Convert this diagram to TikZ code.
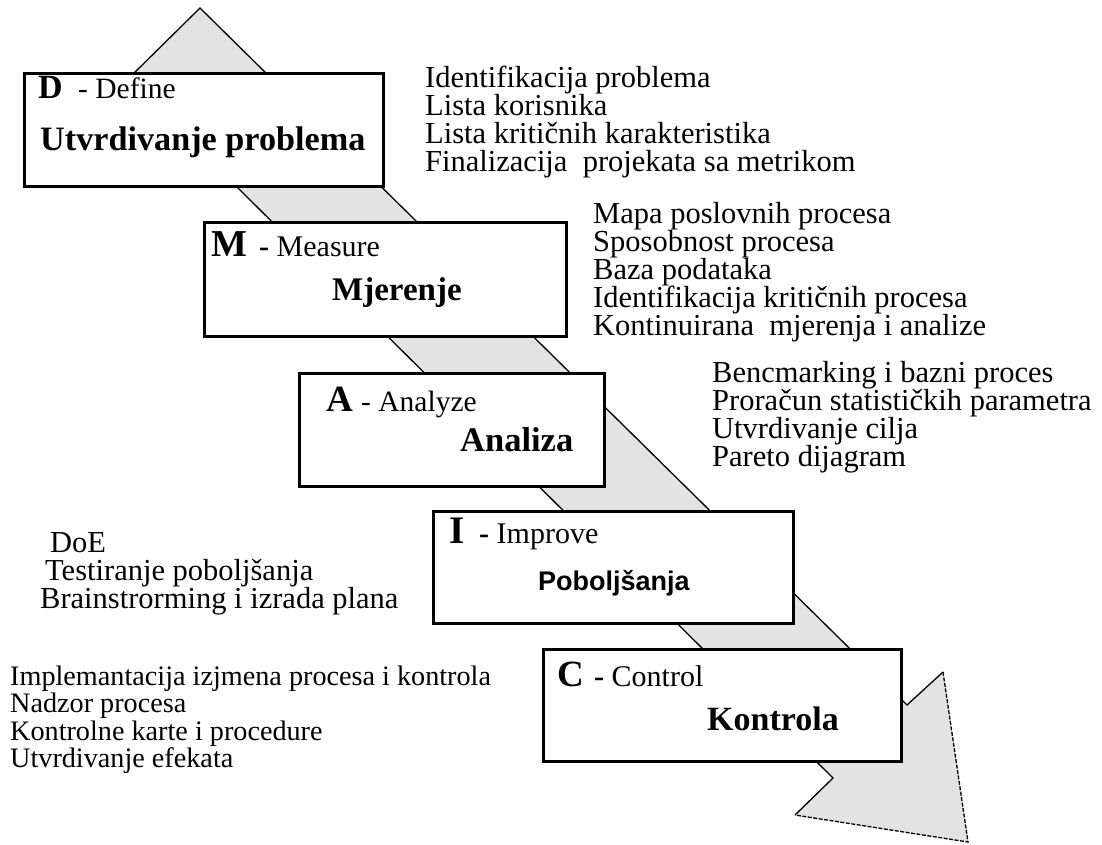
\documentclass[tikz,border=0pt]{standalone}
\usepackage{fontspec}
\setmainfont{Liberation Serif}
\newfontfamily\arialfont{Liberation Sans}
\definecolor{bandgray}{gray}{0.89}
\begin{document}
\begin{tikzpicture}[x=1pt,y=-1pt,
  bandline/.style={draw=black, line width=1.3pt, line join=miter},
  banddash/.style={draw=black, line width=1.3pt, dash pattern=on 4pt off 1.5pt},
  stagebox/.style={draw=black, line width=2.8pt, fill=white, anchor=north west, inner sep=0pt},
  txt/.style={anchor=base west, inner sep=0pt},
  lst/.style={txt, font=\fontsize{30.5}{30}\selectfont},
  lsts/.style={txt, font=\fontsize{28.2}{28}\selectfont},
  letter/.style={txt, font=\bfseries\fontsize{#1}{#1}\selectfont},
  sub/.style={txt, font=\fontsize{#1}{#1}\selectfont},
  title/.style={txt, font=\bfseries\fontsize{#1}{#1}\selectfont}]
\useasboundingbox (0,0) rectangle (1102,844);
% band arrow
\coordinate (apex) at (200,8);
\coordinate (r1) at (907,705);
\coordinate (bR) at (943,672);
\coordinate (tip) at (968,842);
\coordinate (bL) at (795,815);
\coordinate (l1) at (833,778);
\coordinate (l0) at (128,79);
\fill[bandgray] (apex) -- (r1) -- (bR) -- (tip) -- (bL) -- (l1) -- (l0) -- cycle;
\draw[bandline] (bL) -- (l1) -- (l0) -- (apex) -- (r1) -- (bR);
\draw[banddash] (bR) -- (tip) -- (bL);
% boxes
\node[stagebox, minimum width=359, minimum height=113] (D) at (23,72) {};
\node[stagebox, minimum width=362, minimum height=114] (M) at (203,221) {};
\node[stagebox, minimum width=305, minimum height=113] (A) at (298,372) {};
\node[stagebox, minimum width=360, minimum height=112] (I) at (432,510) {};
\node[stagebox, minimum width=358, minimum height=112] (C) at (542,648) {};
% D
\node[letter=34] (dL) at (38,98) {D};
\node[sub=29.5] (dS) at (78,98) {- Define};
\node[title=34.2] (dT) at (40,150) {Utvrdivanje problema};
% M
\node[letter=38] (mL) at (211,256) {M};
\node[sub=30] (mS) at (259,256) {\textbf{-} Measure};
\node[title=33] (mT) at (332,300) {Mjerenje};
% A
\node[letter=37] (aL) at (326,411) {A};
\node[sub=29.5] (aS) at (361,411) {- Analyze};
\node[title=34.5] (aT) at (460,451) {Analiza};
% I
\node[letter=39] (iL) at (449,543) {I};
\node[sub=30] (iS) at (479,543) {\textbf{-} Improve};
\node[txt, font=\arialfont\bfseries\fontsize{27}{27}\selectfont] (iT) at (538,590) {Poboljšanja};
% C
\node[letter=37] (cL) at (557,686) {C};
\node[sub=30] (cS) at (594,686) {\textbf{-} Control};
\node[title=34] (cT) at (707,730) {Kontrola};
% lists
\node[lst] (d1) at (425,87) {Identifikacija problema};
\node[lst] (d2) at (425,115) {Lista korisnika};
\node[lst] (d3) at (425,143) {Lista kritičnih karakteristika};
\node[lst] (d4) at (425,171) {Finalizacija\ \ projekata sa metrikom};
\node[lst] (m1) at (593,223) {Mapa poslovnih procesa};
\node[lst] (m2) at (593,251) {Sposobnost procesa};
\node[lst] (m3) at (593,279) {Baza podataka};
\node[lst] (m4) at (593,307) {Identifikacija kritičnih procesa};
\node[lst] (m5) at (593,335) {Kontinuirana\ \ mjerenja i analize};
\node[lst] (a1) at (712,382) {Bencmarking i bazni proces};
\node[lst] (a2) at (712,410) {Proračun statističkih parametra};
\node[lst] (a3) at (712,438) {Utvrdivanje cilja};
\node[lst] (a4) at (712,466.5) {Pareto dijagram};
\node[lst] (i1) at (50,552) {DoE};
\node[lst] (i2) at (45,580) {Testiranje poboljšanja};
\node[lst] (i3) at (40,608) {Brainstrorming i izrada plana};
\node[lsts] (c1) at (10,685) {Implemantacija izjmena procesa i kontrola};
\node[lsts] (c2) at (10,712.5) {Nadzor procesa};
\node[lsts] (c3) at (10,740) {Kontrolne karte i procedure};
\node[lsts] (c4) at (10,767.5) {Utvrdivanje efekata};
\end{tikzpicture}
\end{document}
